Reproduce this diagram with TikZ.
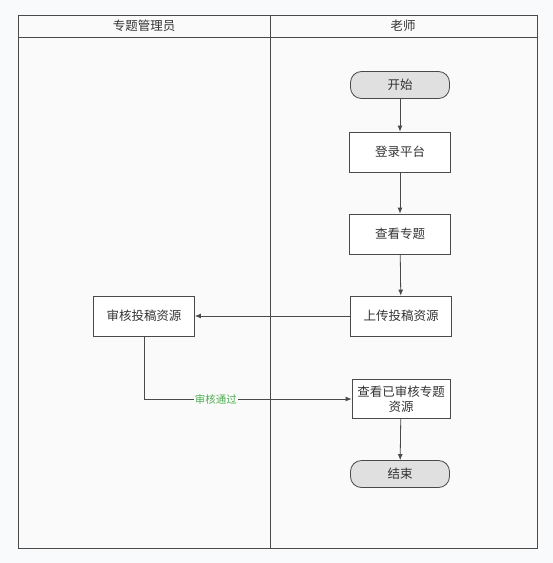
\documentclass[tikz,border=0pt]{standalone}
\usepackage{fontspec}
\setmainfont{Noto Sans CJK SC}
\usepackage{xcolor}
\usetikzlibrary{arrows.meta,positioning}
\definecolor{PageBg}{HTML}{F8FAFC}
\definecolor{LaneBg}{HTML}{FAFAFA}
\definecolor{LineGray}{HTML}{4A4A4A}
\definecolor{TextGray}{HTML}{333333}
\definecolor{TermFill}{HTML}{E0E0E0}
\definecolor{PassGreen}{HTML}{4CAF50}

\begin{document}
\begin{tikzpicture}[x=1pt, y=-1pt, font=\fontsize{12.5}{15}\selectfont, >={Latex[length=6pt,width=5pt]}, text=TextGray]
\tikzset{b/.style={draw=LineGray, thick, align=center, minimum width=101pt, minimum height=40pt, fill=white, inner sep=2pt}, termbox/.style={b, fill=TermFill, rounded corners=11pt, minimum height=27pt, minimum width=99pt}, lane/.style={draw=LineGray, thick, fill=LaneBg}, flow/.style={->, thick, LineGray}}
\useasboundingbox[fill=PageBg] (0,0) rectangle (553,563);
% swimlanes
\draw[lane] (18,15) rectangle (270,548);
\draw[lane] (270,15) rectangle (537,548);
\draw[LineGray, thick] (18,37) -- (537,37);
\node (mgr) at (144,26) {专题管理员};
\node (tch) at (403,26) {老师};
% steps
\node[termbox] (start) at (400,85) {开始};
\node[b] (login) at (400,152) {登录平台};
\node[b] (view) at (400,234) {查看专题};
\node[b] (upload) at (401,316) {上传投稿资源};
\node[b] (review) at (144,316) {审核投稿资源};
\node[b, minimum width=98pt, minimum height=39pt] (result) at (401,399) {查看已审核专题\\资源};
\node[termbox] (finish) at (400,474) {结束};
\foreach \a/\b in {start/login,login/view,view/upload,upload/review,result/finish} \draw[flow] (\a)--(\b);
\draw[flow] (review.south) |- node[pos=0.673, fill=LaneBg, inner sep=1pt, text=PassGreen, font=\fontsize{10.5}{12}\selectfont] (pass) {审核通过} (result.west);
\end{tikzpicture}
\end{document}
